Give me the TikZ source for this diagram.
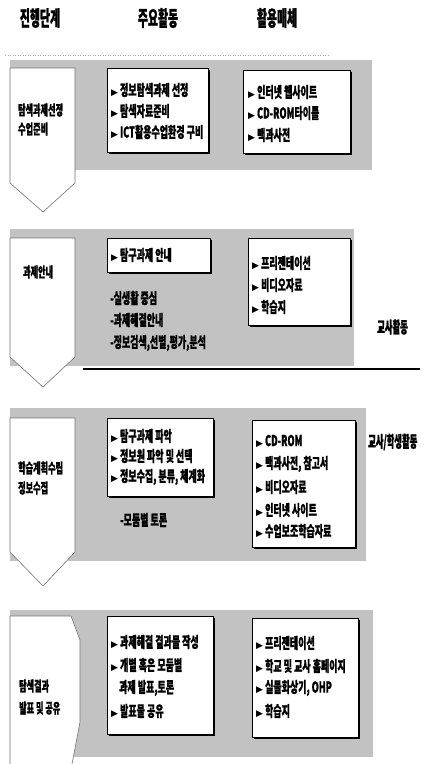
\documentclass[tikz,border=0pt]{standalone}
\usepackage{fontspec}
\usetikzlibrary{shadows}
\newfontfamily\kr{Noto Sans CJK KR}[UprightFeatures={FakeStretch=0.6},BoldFeatures={FakeStretch=0.6,FakeBold=0.8}]
\newfontfamily\krs{Noto Sans CJK KR}[UprightFeatures={FakeStretch=0.58},BoldFeatures={FakeStretch=0.58,FakeBold=0.8}]
\newfontfamily\krh{Noto Sans CJK KR}[UprightFeatures={FakeStretch=0.52},BoldFeatures={FakeStretch=0.52,FakeBold=1}]
\newfontfamily\symf{DejaVu Sans}
\newcommand\bul{{\symf\fontsize{9}{9}\selectfont ▶}\hspace{2pt}}
\begin{document}
\begin{tikzpicture}[x=1pt,y=-1pt,
  band/.style={fill=black!24,draw=none},
  stage/.style={fill=white,draw=black!55,line width=0.6pt},
  box/.style={fill=white,draw=black,line width=0.7pt,inner sep=0pt,anchor=north west,
     drop shadow={shadow xshift=1.2pt,shadow yshift=-1.4pt,fill=black,opacity=1}},
  hd/.style={inner sep=0pt,font=\krh\bfseries\fontsize{21}{21}\selectfont},
  it/.style={anchor=west,inner sep=0pt,font=\kr\bfseries\fontsize{15}{15}\selectfont},
  st/.style={anchor=west,inner sep=0pt,font=\krs\bfseries\fontsize{14}{14}\selectfont},
  lab/.style={anchor=west,inner sep=0pt,font=\krh\bfseries\fontsize{16}{16}\selectfont}]
\useasboundingbox (0,0) rectangle (438,764);
\fill[white] (0,0) rectangle (438,764);

% header
\node[hd] (h1) at (40,18) {진행단계};
\node[hd] (h2) at (158,18) {주요활동};
\node[hd] (h3) at (277,18) {활용매체};
\draw[black!35,dotted,line width=0.5pt] (5,55) -- (330,55);

% bands
\fill[band] (10,60) rectangle (372,170);
\fill[band] (10,229) rectangle (354,366);
\fill[band] (10,408) rectangle (366,561);
\fill[band] (10,610) rectangle (373,757);

% stage shapes
\draw[stage] (10,68) -- (75,68) -- (75,183) -- (43,212) -- (10,183) -- cycle;
\draw[stage] (10,238) -- (75,238) -- (75,357) -- (43,387) -- (10,357) -- cycle;
\draw[stage] (10,418) -- (75,418) -- (75,552) -- (43,586) -- (10,552) -- cycle;
\draw[stage] (10,764) -- (10,616) -- (71,616) -- (80,640) -- (80,722) -- (72,764);

% stage texts
\node[st] (s1a) at (18,110) {탐색과제선정};
\node[st] (s1b) at (18,129) {수업준비};
\node[st] (s2a) at (23,272) {과제안내};
\node[st] (s3a) at (18,468) {학습계획수립};
\node[st] (s3b) at (18,488) {정보수집};
\node[st] (s4a) at (19,686) {탐색결과};
\node[st] (s4b) at (19,708) {발표 및 공유};

% section 1
\node[box,minimum width=101pt,minimum height=84pt] (m1) at (107,68) {};
\node[it] (m1a) at (111,90) {\bul 정보탐색과제 선정};
\node[it] (m1b) at (111,111) {\bul 탐색자료준비};
\node[it] (m1c) at (111,132) {\bul ICT활용수업환경 구비};
\node[box,minimum width=107pt,minimum height=83pt] (r1) at (243,70) {};
\node[it] (r1a) at (248,92) {\bul 인터넷 웹사이트};
\node[it] (r1b) at (248,113) {\bul CD-ROM타이틀};
\node[it] (r1c) at (248,135) {\bul 백과사전};

% section 2
\node[box,minimum width=103pt,minimum height=34pt] (m2) at (107,238) {};
\node[it] (m2a) at (111,255) {\bul 탐구과제 안내};
\node[it] (d2a) at (110,298) {-실생활 중심};
\node[it] (d2b) at (110,320) {-과제해결안내};
\node[it] (d2c) at (110,343) {-정보검색,선별,평가,분석};
\node[box,minimum width=102pt,minimum height=87pt] (r2) at (248,238) {};
\node[it] (r2a) at (252,263) {\bul 프리젠테이션};
\node[it] (r2b) at (252,285) {\bul 비디오자료};
\node[it] (r2c) at (252,307) {\bul 학습지};
\node[lab] (l2) at (377,327) {교사활동};
\coordinate (ln1) at (83,369);
\coordinate (ln2) at (420,369);
\draw[black,line width=1.6pt] (ln1) -- (ln2);

% section 3
\node[box,minimum width=106pt,minimum height=78pt] (m3) at (107,418) {};
\node[it] (m3a) at (111,436) {\bul 탐구과제 파악};
\node[it] (m3b) at (111,456) {\bul 정보원 파악 및 선택};
\node[it] (m3c) at (111,477) {\bul 정보수집, 분류, 체계화};
\node[it] (d3a) at (120,520) {-모둠별 토론};
\node[box,minimum width=103pt,minimum height=127pt] (r3) at (252,420) {};
\node[it] (r3a) at (256,441) {\bul CD-ROM};
\node[it] (r3b) at (256,464) {\bul 백과사전, 참고서};
\node[it] (r3c) at (256,487) {\bul 비디오자료};
\node[it] (r3d) at (256,510) {\bul 인터넷 사이트};
\node[it] (r3e) at (256,531) {\bul 수업보조학습자료};
\node[lab] (l3) at (368,442) {교사/학생활동};

% section 4
\node[box,minimum width=106pt,minimum height=118pt] (m4) at (107,616) {};
\node[it] (m4a) at (111,642) {\bul 과제해결 결과물 작성};
\node[it] (m4b) at (111,665) {\bul 개별 혹은 모둠별};
\node[it] (m4c) at (119,688) {과제 발표,토론};
\node[it] (m4d) at (111,711) {\bul 발표물 공유};
\node[box,minimum width=106pt,minimum height=119pt] (r4) at (252,618) {};
\node[it] (r4a) at (256,643) {\bul 프리젠테이션};
\node[it] (r4b) at (256,666) {\bul 학교 및 교사 홈페이지};
\node[it] (r4c) at (256,688) {\bul 실물화상기, OHP};
\node[it] (r4d) at (256,711) {\bul 학습지};
\end{tikzpicture}
\end{document}
